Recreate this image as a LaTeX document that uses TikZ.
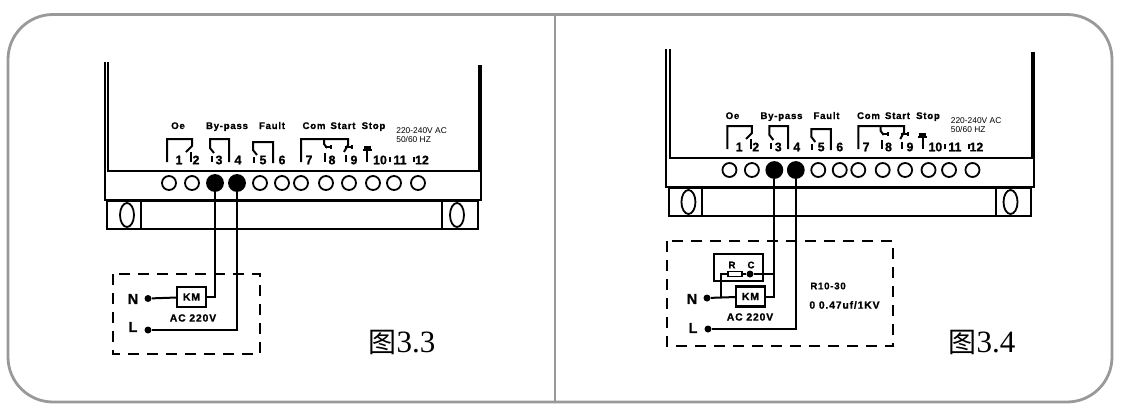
\documentclass[tikz,border=0pt]{standalone}
\usepackage{fontspec}
\usetikzlibrary{shapes.geometric}
\setmainfont[BoldFeatures={FakeBold=1}]{Liberation Sans}
\newfontfamily\cjkfont{Noto Sans CJK SC}
\newfontfamily\capfont{Liberation Serif}
\newfontfamily\wirefont[LetterSpace=8,BoldFeatures={FakeBold=1}]{Liberation Sans}

\tikzset{
	wire/.style={line width=1pt},
	bolt/.style={draw,line width=.9pt,ellipse,minimum width=7pt,minimum height=12pt,inner sep=0pt},
	term/.style={circle,draw,line width=.9pt,minimum size=7pt,inner sep=0pt},
	termon/.style={term,fill=black,minimum size=8pt},
	dot/.style={circle,fill=black,minimum size=3.5pt,inner sep=0pt},
	partbox/.style={draw,line width=1.1pt,minimum width=14.5pt,minimum height=10pt,inner sep=0pt,font=\wirefont\bfseries\fontsize{5.2}{6}\selectfont},
	num/.style={inner sep=0pt,font=\bfseries\fontsize{6.2}{7}\selectfont},
	tag/.style={inner sep=0pt,font=\wirefont\bfseries\fontsize{4.8}{6}\selectfont},
	headtag/.style={tag,anchor=base},
	mains/.style={inner sep=0pt,font=\bfseries\fontsize{7.2}{8}\selectfont},
	fine/.style={inner sep=0pt,anchor=west,font=\fontsize{4.2}{5}\selectfont},
	actag/.style={inner sep=0pt,font=\wirefont\bfseries\fontsize{5.2}{6}\selectfont},
	fig/.style={inner sep=0pt},
	dashbox/.style={line width=1pt,dash pattern=on 5.5pt off 4pt}
}

% housing, contacts and terminals of one relay
\newcommand{\relaybody}{
	\draw[wire] (104.5,62) -- (104.5,200) -- (481,200) -- (481,65);
	\draw[wire] (108,62) -- (108,171) -- (478.5,171) -- (478.5,65);
	\draw[wire] (107,201) rectangle (478,229);
	\draw[wire] (141,201) -- (141,229);
	\draw[wire] (442,201) -- (442,229);
	\node[bolt] (BL) at (127,215) {};
	\node[bolt] (BR) at (457,215) {};

	\draw[wire] (167,162) -- (167,139) -- (192,139) -- (192,146) -- (186,152);
	\draw[wire] (191,152) -- (191,162);
	\draw[wire] (229,162) -- (229,139) -- (210,139) -- (210,148) -- (214,153);
	\draw[wire] (212,156) -- (212,162);
	\draw[wire] (273,163) -- (273,142) -- (253,142) -- (253,150) -- (257,155);
	\draw[wire] (254,157) -- (254,163);
	\draw[wire] (301,162) -- (301,139) -- (348,139) -- (348,145) -- (344,152);
	\draw[wire] (324,139) -- (324,144) -- (327,148);
	\draw[wire] (325,147) -- (331,147);
	\draw[wire] (331,145) -- (331,149);
	\draw[wire] (325,153) -- (325,162);
	\draw[wire] (345,147) -- (352,147);
	\draw[wire] (352,145) -- (352,149);
	\draw[wire] (346,155) -- (346,162);
	\draw[wire] (367,162) -- (367,150);
	\draw[wire] (362.5,150) -- (371.5,150);
	\fill (363.5,148.5) rectangle (370.5,145.5);
	\draw[wire] (389.5,157) -- (389.5,162);
	\draw[wire] (414,157) -- (414,162);

	\foreach \i/\x/\s in {1/169/term,2/192/term,3/215/termon,4/237/termon,5/260/term,6/282/term,
		7/301/term,8/326/term,9/349/term,10/373/term,11/394/term,12/418/term}
		\node[\s] (T\i) at (\x,183) {};

	\foreach \i/\x in {1/179,2/196,3/219,4/238,5/263,6/282,7/309,8/332,9/354,10/380,11/400,12/422}
		\node[num] (N\i) at (\x,160) {\i};
}

% names above the contacts
\newcommand{\relaytags}{
	\node[headtag] (Oe) at (178,129) {Oe};
	\node[headtag] (Bypass) at (227,129) {By-pass};
	\node[headtag] (Fault) at (272,129) {Fault};
	\node[headtag] (Com) at (314,129) {Com};
	\node[headtag] (Start) at (343,129) {Start};
	\node[headtag] (Stop) at (373.5,129) {Stop};
	\node[fine] (Volt) at (396,131) {220-240V AC};
	\node[fine] (Hz) at (396,139) {50/60 HZ};
}

\begin{document}
\begin{tikzpicture}[x=.5pt,y=-.5pt]
	\useasboundingbox (0,0) rectangle (1136,413);
	\draw[line width=1.4pt,draw=black!40,rounded corners=22.5pt] (8,14.5) rectangle (1112,402);
	\draw[line width=1.3pt,draw=black!40] (555,14.5) -- (555,402);

	% left figure
	\begin{scope}[name prefix=a]
		\relaybody
		\relaytags
		\node[partbox] (KM) at (191.5,297) {KM};
		\node[dot] (Nd) at (148,298.5) {};
		\node[dot] (Ld) at (148,330) {};
		\node[mains] (Nt) at (133,299) {N};
		\node[mains] (Lt) at (133,327) {L};
		\node[actag] (AC) at (193,318) {AC 220V};
	\end{scope}
	\draw[wire] (aNd) -- (aKM);
	\draw[wire] (aT3) |- (aKM);
	\draw[wire] (aT4) |- (aLd);
	\draw[dashbox] (113,274) rectangle (260,354);
	\node[fig] (figa) at (402,342) {{\cjkfont\fontsize{14}{14}\selectfont 图}{\capfont\fontsize{15.5}{16}\selectfont 3.3}};

	% right figure
	\begin{scope}[name prefix=b,shift={(564.5,-13)},xscale=.976]
		\relaybody
	\end{scope}
	\begin{scope}[name prefix=b,shift={(554.5,-10)}]
		\relaytags
	\end{scope}
	\node[partbox] (bKM) at (750.5,296.5) {KM};
	\node[draw,line width=1.1pt,minimum width=24.5pt,minimum height=13.5pt,inner sep=0pt] (bRC) at (738.5,267.5) {};
	\node[draw,line width=.7pt,minimum width=7pt,minimum height=2.5pt,inner sep=0pt] (bR) at (735,274) {};
	\node[dot] (bC) at (750,274) {};
	\node[tag] (bRt) at (732,265) {R};
	\node[tag] (bCt) at (751,265) {C};
	\node[dot] (bNd) at (707,298) {};
	\node[dot] (bLd) at (708,329) {};
	\node[mains] (bNt) at (692,299) {N};
	\node[mains] (bLt) at (693,328) {L};
	\node[actag] (bAC) at (750,317) {AC 220V};
	\coordinate (bJ) at (721,298);
	\draw[wire] (bNd) -- (bKM);
	\draw[wire] (bT3) |- (bKM);
	\draw[wire] (bT4) |- (bLd);
	\draw[wire] (bJ) |- (bR);
	\draw[wire] (bR) -- (bC);
	\draw[wire] (bC) -- (bT3 |- bC);
	\draw[dashbox] (667,241) rectangle (893,346);
	\node[tag,anchor=west] (bType) at (810,286) {R10-30};
	\node[tag,anchor=west,font=\wirefont\bfseries\fontsize{5.2}{6}\selectfont] (bCap) at (809,305) {0 0.47uf/1KV};
	\node[fig] (figb) at (982,342) {{\cjkfont\fontsize{14}{14}\selectfont 图}{\capfont\fontsize{15.5}{16}\selectfont 3.4}};
\end{tikzpicture}
\end{document}
